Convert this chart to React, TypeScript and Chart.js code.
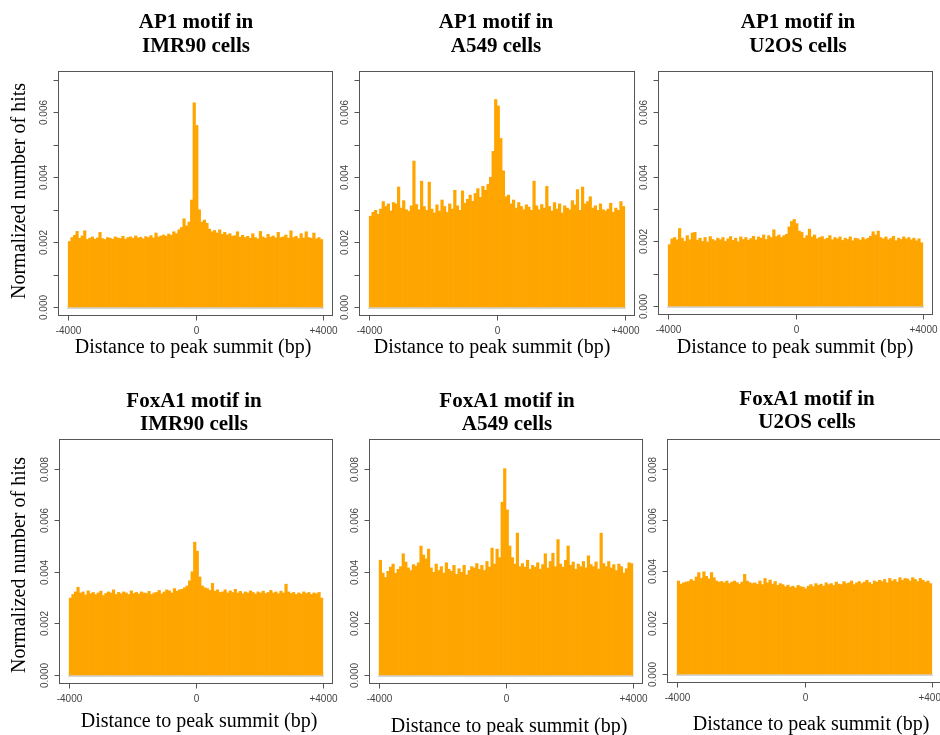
import React, { useEffect, useRef } from "react";
import { Chart, registerables } from "chart.js";

Chart.register(...registerables);

// ---- data (values in units of 1e-5, 100 bins of 80 bp from -4000 to +4000) ----
const BIN_START = -3960;
const BIN_WIDTH = 80;
const UNIT = 1e-5;

const AP1_IMR90 = [
  202, 214, 221, 233, 212, 219, 235, 208, 212, 216,
  209, 213, 230, 211, 208, 214, 212, 209, 216, 213,
  211, 218, 209, 214, 216, 212, 219, 213, 215, 210,
  217, 214, 220, 213, 228, 216, 219, 222, 218, 225,
  221, 232, 226, 238, 245, 272, 250, 262, 330, 630,
  560, 300, 262, 268, 258, 240, 232, 236, 228, 238,
  224, 230, 222, 226, 218, 220, 232, 215, 221, 214,
  218, 212, 226, 214, 210, 233, 216, 212, 224, 215,
  219, 213, 230, 214, 216, 222, 212, 235, 214, 218,
  211, 226, 213, 232, 214, 212, 228, 210, 214, 208,
];

const AP1_A549 = [
  280, 292, 298, 286, 302, 325, 310, 318, 296, 322,
  318, 370, 305, 328, 300, 295, 312, 450, 316, 300,
  388, 310, 298, 385, 302, 290, 315, 296, 330, 310,
  292, 318, 302, 360, 312, 298, 358, 320, 332, 345,
  326, 350, 365, 338, 372, 360, 378, 400, 480, 640,
  620, 520, 420, 340, 345, 318, 330, 305, 322, 310,
  300, 315, 308, 298, 388, 312, 300, 316, 305, 372,
  310, 296, 322, 302, 318, 290, 312, 305, 300, 328,
  315, 362, 298, 370, 318, 325, 340, 305, 312, 298,
  318, 300, 296, 302, 320, 292, 305, 298, 325, 310,
];

const AP1_U2OS = [
  190, 208, 212, 205, 240, 210, 200, 218, 205, 226,
  228, 204, 210, 200, 212, 198, 215, 206, 202, 210,
  205, 212, 200, 208, 215, 203, 210, 199, 214, 206,
  212, 204, 209, 216, 205, 214, 210, 220, 206, 218,
  212, 236, 215, 220, 212, 218, 222, 245, 262, 268,
  255, 232, 228, 210, 218, 238, 214, 220, 208, 212,
  215, 206, 210, 218, 205, 212, 208, 214, 203, 210,
  206, 214, 202, 210, 208, 204, 212, 206, 210, 216,
  230, 220, 232, 212, 208, 214, 205, 210, 216, 202,
  210, 206, 214, 208, 212, 205, 210, 202, 208, 196,
];

const FOXA1_IMR90 = [
  298, 312, 322, 340, 318, 322, 310, 326, 315, 320,
  312, 318, 325, 308, 316, 322, 318, 330, 312, 320,
  315, 322, 318, 312, 326, 316, 320, 314, 322, 318,
  316, 324, 312, 318, 320, 328, 315, 322, 330, 326,
  318, 335, 325, 330, 332, 338, 345, 365, 400, 515,
  480, 380, 345, 338, 335, 328, 355, 325, 330, 320,
  322, 330, 318, 326, 320, 332, 318, 324, 315, 322,
  318, 326, 320, 314, 322, 318, 325, 316, 320, 328,
  318, 322, 315, 325, 318, 352, 322, 316, 320, 312,
  318, 314, 322, 316, 320, 312, 318, 315, 320, 298,
];

const FOXA1_A549 = [
  445, 395, 378, 402, 418, 430, 395, 410, 420, 470,
  438, 415, 405, 428, 422, 435, 500, 465, 450, 488,
  415, 398, 430, 405, 420, 395, 435, 410, 402, 425,
  390, 412, 398, 425, 388, 405, 420, 415, 432, 410,
  425, 405, 440, 418, 492, 430, 488, 455, 670, 800,
  640, 500, 455, 430, 550, 420, 432, 418, 445, 410,
  425, 418, 435, 410, 428, 470, 415, 440, 472, 420,
  525, 430, 418, 445, 500, 425, 438, 410, 430, 420,
  440, 415, 462, 428, 420, 438, 410, 550, 432, 420,
  440, 415, 428, 405, 430, 420, 395, 412, 435, 432,
];

const FOXA1_U2OS = [
  362, 350, 355, 358, 360, 368, 362, 378, 395, 372,
  398, 380, 370, 395, 375, 362, 358, 360, 355, 362,
  352, 358, 362, 356, 350, 358, 388, 362, 356, 352,
  355, 350, 362, 348, 372, 355, 366, 350, 360, 345,
  352, 348, 340, 346, 338, 342, 335, 345, 340, 338,
  332, 342, 348, 340, 352, 345, 350, 342, 355, 348,
  352, 345, 358, 350, 348, 360, 352, 355, 362, 348,
  355, 360, 352, 358, 365, 356, 350, 362, 358, 365,
  360, 368, 355, 372, 362, 368, 358, 375, 365, 372,
  370, 362, 375, 368, 360, 372, 365, 358, 362, 352,
];

const X_TICKS = [-4000, 0, 4000];
const X_TICK_LABELS = ["-4000", "0", "+4000"];
const Y_TICKS_AP1 = [0, 0.001, 0.002, 0.003, 0.004, 0.005, 0.006, 0.007];
const Y_LABELS_AP1 = ["0.000", "", "0.002", "", "0.004", "", "0.006", ""];
const Y_TICKS_FOXA1 = [0, 0.002, 0.004, 0.006, 0.008];
const Y_LABELS_FOXA1 = ["0.000", "0.002", "0.004", "0.006", "0.008"];
const Y_LIM_AP1 = [0, 0.007];
const Y_LIM_FOXA1 = [0, 0.0088];
const X_LIM = [-4000, 4000];

const X_TITLE = "Distance to peak summit (bp)";
const Y_TITLE = "Normalized number of hits";

// ---- layout ----
const CW = 960;
const CH = 735;

type Panel = {
  title: string[];
  values: number[];
  yTicks: number[];
  yLabels: string[];
  yLim: number[];
  box: number[]; // left, top, right, bottom
  titleX: number;
  titleY: number[];
  xTitle: number[];
  yTitle: number[] | null;
};

const PANELS: Panel[] = [
  { title: ["AP1 motif in", "IMR90 cells"], values: AP1_IMR90, yTicks: Y_TICKS_AP1, yLabels: Y_LABELS_AP1, yLim: Y_LIM_AP1,
    box: [58, 71, 333, 316], titleX: 196, titleY: [23, 47], xTitle: [193, 348], yTitle: [20, 191] },
  { title: ["AP1 motif in", "A549 cells"], values: AP1_A549, yTicks: Y_TICKS_AP1, yLabels: Y_LABELS_AP1, yLim: Y_LIM_AP1,
    box: [359, 71, 635, 316], titleX: 496, titleY: [23, 47], xTitle: [492, 348], yTitle: null },
  { title: ["AP1 motif in", "U2OS cells"], values: AP1_U2OS, yTicks: Y_TICKS_AP1, yLabels: Y_LABELS_AP1, yLim: Y_LIM_AP1,
    box: [658, 71, 933, 315], titleX: 798, titleY: [23, 47], xTitle: [795, 348], yTitle: null },
  { title: ["FoxA1 motif in", "IMR90 cells"], values: FOXA1_IMR90, yTicks: Y_TICKS_FOXA1, yLabels: Y_LABELS_FOXA1, yLim: Y_LIM_FOXA1,
    box: [59, 439, 333, 684], titleX: 194, titleY: [402, 425], xTitle: [199, 722], yTitle: [20, 565] },
  { title: ["FoxA1 motif in", "A549 cells"], values: FOXA1_A549, yTicks: Y_TICKS_FOXA1, yLabels: Y_LABELS_FOXA1, yLim: Y_LIM_FOXA1,
    box: [369, 439, 643, 684], titleX: 507, titleY: [402, 425], xTitle: [509, 727], yTitle: null },
  { title: ["FoxA1 motif in", "U2OS cells"], values: FOXA1_U2OS, yTicks: Y_TICKS_FOXA1, yLabels: Y_LABELS_FOXA1, yLim: Y_LIM_FOXA1,
    box: [667, 439, 942, 683], titleX: 807, titleY: [400, 423], xTitle: [811, 725], yTitle: null },
];

const SERIF = '"Liberation Serif", "Times New Roman", serif';
const SANS = '"Liberation Sans", Arial, sans-serif';

function makeDeco(p: Panel, idx: number) {
  return {
    id: "deco" + idx,
    beforeDatasetsDraw(chart: any) {
      const ctx = chart.ctx;
      const xs = chart.scales.x;
      const ys = chart.scales.y;
      const y0 = ys.getPixelForValue(0);
      ctx.save();
      ctx.strokeStyle = "#d4d4d4";
      ctx.lineWidth = 2;
      ctx.beginPath();
      ctx.moveTo(xs.getPixelForValue(X_LIM[0]) - 1, y0 + 1);
      ctx.lineTo(xs.getPixelForValue(X_LIM[1]) + 1, y0 + 1);
      ctx.stroke();
      ctx.restore();
    },
    afterDraw(chart: any) {
      const ctx = chart.ctx;
      const { left, right, top, bottom } = chart.chartArea;
      const xs = chart.scales.x;
      const ys = chart.scales.y;
      ctx.save();
      // box
      ctx.strokeStyle = "#555";
      ctx.lineWidth = 1;
      const L = Math.round(left) + 0.5;
      const T = Math.round(top) + 0.5;
      const R = Math.round(right) - 0.5;
      const B = Math.round(bottom) - 0.5;
      ctx.strokeRect(L, T, R - L, B - T);
      // y ticks
      ctx.fillStyle = "#444";
      ctx.font = `10px ${SANS}`;
      p.yTicks.forEach((v, i) => {
        const y = Math.round(ys.getPixelForValue(v)) + 0.5;
        ctx.beginPath();
        ctx.moveTo(L, y);
        ctx.lineTo(L - 5, y);
        ctx.stroke();
        const lab = p.yLabels[i];
        if (lab) {
          ctx.save();
          ctx.translate(L - 14, y);
          ctx.rotate(-Math.PI / 2);
          ctx.textAlign = "center";
          ctx.textBaseline = "middle";
          ctx.fillText(lab, 0, 0);
          ctx.restore();
        }
      });
      // x ticks
      X_TICKS.forEach((v, i) => {
        const x = Math.round(xs.getPixelForValue(v)) + 0.5;
        ctx.beginPath();
        ctx.moveTo(x, B);
        ctx.lineTo(x, B + 5);
        ctx.stroke();
        ctx.textAlign = "center";
        ctx.textBaseline = "middle";
        ctx.fillText(X_TICK_LABELS[i], x, B + 16);
      });
      // titles
      ctx.fillStyle = "#000";
      ctx.font = `bold 21px ${SERIF}`;
      ctx.textAlign = "center";
      ctx.textBaseline = "middle";
      p.title.forEach((t, i) => ctx.fillText(t, p.titleX, p.titleY[i]));
      ctx.font = `20px ${SERIF}`;
      ctx.fillText(X_TITLE, p.xTitle[0], p.xTitle[1]);
      if (p.yTitle) {
        ctx.save();
        ctx.translate(p.yTitle[0], p.yTitle[1]);
        ctx.rotate(-Math.PI / 2);
        ctx.fillText(Y_TITLE, 0, 0);
        ctx.restore();
      }
      ctx.restore();
    },
  };
}

function PanelChart({ p, idx }: { p: Panel; idx: number }) {
  const ref = useRef<HTMLCanvasElement | null>(null);
  useEffect(() => {
    if (!ref.current) return;
    const xExt = (X_LIM[1] - X_LIM[0]) * 0.04;
    const yExt = (p.yLim[1] - p.yLim[0]) * 0.04;
    const data = p.values.map((v, i) => ({ x: BIN_START + BIN_WIDTH * i, y: v * UNIT }));
    const chart = new Chart(ref.current, {
      type: "bar",
      data: {
        datasets: [
          {
            data,
            backgroundColor: "#FFA500",
            borderWidth: 0,
            barPercentage: 1,
            categoryPercentage: 1,
            grouped: false,
          } as any,
        ],
      },
      options: {
        responsive: false,
        animation: false,
        events: [],
        layout: {
          padding: {
            left: p.box[0],
            top: p.box[1],
            right: CW - p.box[2],
            bottom: CH - p.box[3],
          },
        },
        plugins: {
          legend: { display: false },
          tooltip: { enabled: false },
          title: { display: false },
        },
        scales: {
          x: {
            type: "linear",
            min: X_LIM[0] - xExt,
            max: X_LIM[1] + xExt,
            offset: false,
            display: false,
          },
          y: {
            type: "linear",
            min: p.yLim[0] - yExt,
            max: p.yLim[1] + yExt,
            display: false,
          },
        },
      } as any,
      plugins: [makeDeco(p, idx)],
    });
    return () => chart.destroy();
  }, []);
  return (
    <canvas
      ref={ref}
      width={CW}
      height={CH}
      style={{ position: "absolute", left: 0, top: 0, width: CW, height: CH }}
    />
  );
}

export default function App() {
  return (
    <div
      style={{
        position: "absolute",
        left: 0,
        top: 0,
        width: 940,
        height: 735,
        overflow: "hidden",
        background: "#fff",
      }}
    >
      {PANELS.map((p, i) => (
        <PanelChart key={i} p={p} idx={i} />
      ))}
    </div>
  );
}
